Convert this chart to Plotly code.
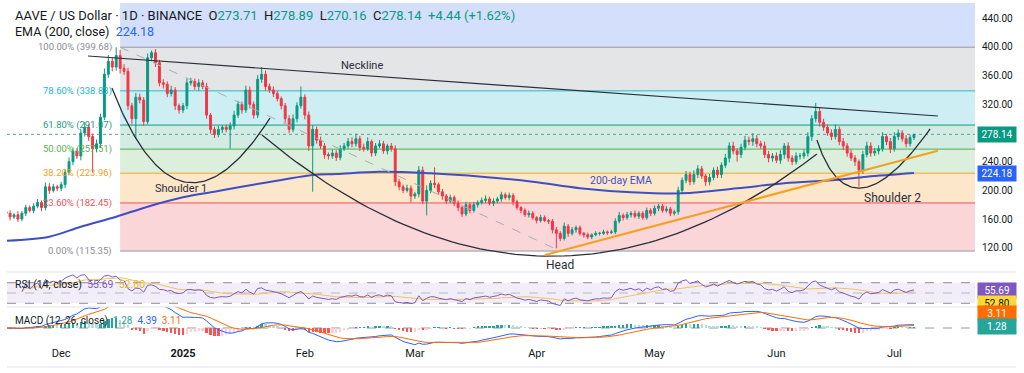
import numpy as np
import pandas as pd
import plotly.graph_objects as go

# ---------------- data ----------------
start_date = "2024-11-17"
first_open = 170.0
closes = [
    168, 163, 166, 160, 168, 176, 172, 178, 183, 176,
    205, 200, 205, 203, 208, 225, 240, 255, 248, 280,
    288, 275, 258, 265, 302, 362, 380, 372, 388, 370,
    366, 318, 300, 330, 326, 296, 385, 392, 378, 350,
    348, 335, 340, 318, 312, 318, 350, 352, 345, 350,
    345, 305, 285, 278, 285, 288, 285, 290, 305, 320,
    312, 340, 320, 305, 355, 362, 345, 340, 335, 328,
    318, 300, 285, 300, 318, 330, 305, 262, 285, 270,
    262, 250, 248, 252, 246, 258, 262, 268, 265, 272,
    260, 258, 268, 252, 262, 265, 255, 262, 258, 212,
    205, 200, 203, 192, 195, 228, 185, 200, 210, 208,
    198, 192, 185, 190, 182, 176, 167, 180, 172, 180,
    183, 186, 188, 182, 185, 188, 194, 190, 193, 184,
    176, 172, 166, 168, 162, 158, 162, 158, 157, 145,
    140, 133, 150, 140, 145, 148, 140, 138, 135, 138,
    140, 140, 142, 141, 142, 157, 165, 162, 166, 168,
    164, 168, 162, 172, 168, 175, 178, 172, 174, 168,
    170, 200, 214, 222, 212, 222, 230, 220, 212, 218,
    228, 222, 235, 245, 262, 255, 250, 260, 270, 268,
    272, 265, 262, 250, 245, 248, 242, 250, 262, 245,
    240, 248, 248, 252, 275, 300, 310, 295, 288, 280,
    275, 285, 268, 262, 252, 245, 240, 228, 250, 262,
    252, 255, 258, 275, 268, 258, 275, 280, 272, 265,
    273.71, 278.14,
]
up_wick = [
    3, 4, 2, 5, 3, 4, 3, 4, 5, 3,
    6, 5, 4, 3, 4, 5, 6, 5, 4, 6,
    7, 5, 4, 6, 5, 8, 9, 6, 11.68, 8,
    6, 5, 4, 6, 5, 4, 6, 3, 5, 4,
    5, 4, 6, 4, 3, 4, 6, 5, 4, 5,
    4, 5, 3, 4, 5, 3, 4, 5, 6, 5,
    4, 6, 5, 4, 6, 10, 5, 4, 5, 4,
    3, 4, 5, 6, 5, 15, 4, 5, 6, 4,
    5, 4, 3, 5, 4, 5, 4, 5, 6, 7,
    4, 5, 6, 3, 4, 5, 4, 3, 4, 5,
    4, 3, 5, 4, 3, 6, 5, 7, 4, 22,
    3, 4, 3, 4, 3, 4, 3, 4, 3, 4,
    3, 4, 5, 3, 4, 3, 4, 3, 4, 3,
    3, 2, 3, 4, 3, 2, 4, 3, 2, 3,
    4, 3, 5, 3, 4, 3, 3, 2, 3, 2,
    3, 2, 3, 2, 3, 4, 5, 3, 4, 3,
    4, 3, 3, 4, 3, 4, 3, 3, 4, 3,
    3, 5, 4, 5, 4, 6, 5, 4, 3, 5,
    4, 5, 4, 6, 5, 6, 4, 5, 6, 5,
    8, 5, 4, 6, 5, 4, 5, 6, 4, 5,
    4, 5, 4, 5, 6, 5, 12, 6, 5, 4,
    5, 7, 4, 5, 4, 5, 4, 3, 5, 6,
    5, 4, 5, 6, 4, 5, 6, 5, 4, 5,
    4, 0.75,
]
dn_wick = [
    3, 5, 3, 4, 3, 4, 3, 4, 3, 5,
    4, 5, 3, 4, 4, 5, 4, 5, 4, 6,
    5, 6, 33, 5, 6, 4, 5, 6, 5, 7,
    5, 6, 8, 28, 5, 6, 4, 5, 6, 5,
    6, 5, 4, 6, 5, 4, 5, 4, 5, 6,
    4, 5, 6, 5, 4, 5, 4, 27, 5, 4,
    5, 4, 6, 5, 4, 5, 6, 4, 5, 4,
    5, 6, 5, 4, 5, 4, 6, 7, 64, 5,
    4, 6, 5, 4, 5, 4, 3, 4, 5, 4,
    5, 4, 3, 5, 4, 3, 4, 5, 4, 6,
    5, 4, 3, 9, 4, 5, 4, 20, 4, 5,
    4, 5, 4, 3, 4, 5, 4, 3, 4, 3,
    4, 3, 4, 3, 4, 3, 4, 3, 4, 5,
    3, 4, 3, 4, 3, 4, 3, 2, 4, 5,
    21, 4, 3, 5, 3, 4, 3, 4, 3, 3,
    2, 3, 2, 3, 2, 3, 3, 4, 3, 4,
    3, 4, 3, 3, 4, 3, 4, 3, 3, 4,
    3, 4, 5, 4, 5, 4, 5, 4, 6, 5,
    4, 5, 5, 4, 6, 5, 10, 5, 4, 5,
    6, 5, 4, 5, 6, 5, 4, 5, 6, 5,
    5, 4, 5, 4, 5, 6, 5, 6, 5, 4,
    5, 4, 5, 6, 5, 4, 6, 23, 5, 4,
    5, 4, 5, 4, 5, 6, 4, 5, 4, 5,
    4, 3.55,
]

ema_dates = ["2024-11-17", "2024-11-28", "2024-12-06", "2024-12-15", "2024-12-23",
             "2025-01-01", "2025-01-09", "2025-01-17", "2025-01-26", "2025-02-03",
             "2025-02-09", "2025-02-20", "2025-03-05", "2025-03-18", "2025-03-31",
             "2025-04-12", "2025-04-25", "2025-05-08", "2025-05-22", "2025-06-03",
             "2025-06-16", "2025-06-24", "2025-07-06"]
ema_vals = [129.8, 135.4, 149.3, 163.3, 177.2, 190.3, 198.1, 206.1, 214.4, 221.4,
            222.8, 226.0, 223.8, 219.0, 212.0, 202.9, 197.3, 195.8, 202.9, 209.8,
            214.4, 219.0, 224.18]

fib_pcts = [0.0, 23.6, 38.2, 50.0, 61.8, 78.6, 100.0]
fib_vals = [115.35, 182.45, 223.96, 257.51, 291.07, 338.83, 399.68]
fib_line_colors = ["#9598a1", "#f0505c", "#f5a524", "#4caf50", "#14997f", "#25b9c9", "#9598a1"]
fib_text_colors = ["#8a8d96", "#ef4f5b", "#f2a02a", "#5aaf50", "#1f9a7e", "#27b3c6", "#8a8d96"]
fib_zone_colors = ["#fad6d9", "#fde7cb", "#dcefdc", "#d2ece3", "#cdeff4", "#e4e5e7", "#d4dffb"]
fib_start = "2024-12-16"

price_ticks = [120, 160, 200, 240, 320, 360, 400, 440]
date_ticks = ["2024-12-01", "2025-01-01", "2025-02-01", "2025-03-01", "2025-04-01",
              "2025-05-01", "2025-06-01", "2025-07-01"]
date_labels = ["Dec", "<b>2025</b>", "Feb", "Mar", "Apr", "May", "Jun", "Jul"]

last_ohlc = {"O": 273.71, "H": 278.89, "L": 270.16, "C": 278.14}
chg, chg_pct = 4.44, 1.62
ema_last = 224.18
rsi_last, rsi_ma_last = 55.69, 52.80
macd_hist_last, macd_last, signal_last = 1.28, 4.39, 3.11

# drawings: (date, price) anchors
neckline = [("2024-12-07 20:00", 387.4), ("2025-07-12 02:00", 303.7)]
support_line = [("2025-04-03 02:00", 109.8), ("2025-07-12 02:00", 255.3)]
fib_diag = [("2024-12-16", 399.68), ("2025-04-07", 115.35)]
arc_shoulder1 = [("2024-12-13 22:00", 342.8), ("2024-12-31 00:00", 101.5), ("2025-01-23 03:00", 300.9)]
arc_head = [("2025-01-21 02:00", 277.2), ("2025-04-01 23:00", -47.1), ("2025-06-11 07:00", 250.7)]
arc_shoulder2 = [("2025-06-11 07:00", 270.2), ("2025-06-19 20:00", 128.7), ("2025-07-10 02:00", 285.6)]

# ---------------- layout calibration (pixels) ----------------
W, H = 1024, 373
PL, PR, PT, PB = 7, 975, 3, 345
PX_PER_DAY, JAN1_PX = 3.93, 183
JAN1 = pd.Timestamp("2025-01-01")
x_range = [JAN1 + pd.Timedelta(days=(PL - JAN1_PX) / PX_PER_DAY),
           JAN1 + pd.Timedelta(days=(PR - JAN1_PX) / PX_PER_DAY)]
PPD = 0.7169  # px per dollar
P440 = 18.3
main_range = [440 - (272 - P440) / PPD, 440 + (P440 - PT) / PPD]
rsi_range = [22.8, 90.8]
macd_range = [-23.0, 28.4]


def py(pix):
    return (PB - pix) / (PB - PT)


def pxp(pix):
    return (pix - PL) / (PR - PL)


# ---------------- derived series ----------------
dates = pd.date_range(start_date, periods=len(closes), freq="D")
opens = [first_open] + closes[:-1]
highs = [max(o, c) + u for o, c, u in zip(opens, closes, up_wick)]
lows = [min(o, c) - d for o, c, d in zip(opens, closes, dn_wick)]

s = pd.Series(closes, dtype=float)
delta = s.diff()
gain = delta.clip(lower=0)
loss = -delta.clip(upper=0)
ag = gain.ewm(alpha=1 / 14, adjust=True, min_periods=4).mean()
al = loss.ewm(alpha=1 / 14, adjust=True, min_periods=4).mean()
rsi = 100 - 100 / (1 + ag / al)
rsi_ma = rsi.rolling(14, min_periods=1).mean()
ema12 = s.ewm(span=12, adjust=False).mean()
ema26 = s.ewm(span=26, adjust=False).mean()
macd = ema12 - ema26
signal = macd.ewm(span=9, adjust=False).mean()
hist = macd - signal
hist_colors = []
for i, h in enumerate(hist):
    prev = hist.iloc[i - 1] if i > 0 else 0
    if h >= 0:
        hist_colors.append("#26a69a" if h >= prev else "#b2dfdb")
    else:
        hist_colors.append("#ff5252" if h < prev else "#ffcdd2")


def bezier(pts, n=80):
    t = np.linspace(0, 1, n)
    xs = [pd.Timestamp(p[0]).value for p in pts]
    ys = [p[1] for p in pts]
    bx = (1 - t) ** 2 * xs[0] + 2 * t * (1 - t) * xs[1] + t ** 2 * xs[2]
    by = (1 - t) ** 2 * ys[0] + 2 * t * (1 - t) * ys[1] + t ** 2 * ys[2]
    return pd.to_datetime(bx.astype("int64")), by


# ---------------- figure ----------------
fig = go.Figure()

fig.add_trace(go.Candlestick(
    x=dates, open=opens, high=highs, low=lows, close=closes,
    increasing=dict(line=dict(color="#089981", width=1), fillcolor="#089981"),
    decreasing=dict(line=dict(color="#f23645", width=1), fillcolor="#f23645"),
    whiskerwidth=0, xaxis="x", yaxis="y", showlegend=False, hoverinfo="skip"))

fig.add_trace(go.Scatter(x=pd.to_datetime(ema_dates), y=ema_vals, mode="lines",
                         line=dict(color="#3d4fc4", width=2, shape="spline", smoothing=1.0),
                         xaxis="x", yaxis="y", showlegend=False, hoverinfo="skip"))

for arc in (arc_shoulder1, arc_head, arc_shoulder2):
    bx, by = bezier(arc)
    fig.add_trace(go.Scatter(x=bx, y=by, mode="lines", line=dict(color="#2a2e39", width=1.3),
                             xaxis="x", yaxis="y", showlegend=False, hoverinfo="skip"))

# RSI
fig.add_trace(go.Scatter(x=dates, y=rsi_ma, mode="lines", line=dict(color="#f3c25a", width=1),
                         xaxis="x", yaxis="y2", showlegend=False, hoverinfo="skip"))
fig.add_trace(go.Scatter(x=dates, y=rsi, mode="lines", line=dict(color="#7e57c2", width=1),
                         xaxis="x", yaxis="y2", showlegend=False, hoverinfo="skip"))

# MACD
fig.add_trace(go.Bar(x=dates, y=hist, marker=dict(color=hist_colors, line=dict(width=0)),
                     width=86400000 * 0.6, xaxis="x", yaxis="y3", showlegend=False, hoverinfo="skip"))
fig.add_trace(go.Scatter(x=dates, y=macd, mode="lines", line=dict(color="#2962ff", width=1),
                         xaxis="x", yaxis="y3", showlegend=False, hoverinfo="skip"))
fig.add_trace(go.Scatter(x=dates, y=signal, mode="lines", line=dict(color="#ff6d00", width=1),
                         xaxis="x", yaxis="y3", showlegend=False, hoverinfo="skip"))

shapes = []
# fib zones
zone_bounds = fib_vals + [main_range[1] + 5]
for i in range(len(fib_vals)):
    shapes.append(dict(type="rect", xref="x", yref="y", x0=fib_start, x1=x_range[1],
                       y0=zone_bounds[i], y1=zone_bounds[i + 1], fillcolor=fib_zone_colors[i],
                       line=dict(width=0), layer="below"))
for v, c in zip(fib_vals, fib_line_colors):
    shapes.append(dict(type="line", xref="x", yref="y", x0=fib_start, x1=x_range[1], y0=v, y1=v,
                       line=dict(color=c, width=1), layer="below"))
# last price dotted
shapes.append(dict(type="line", xref="x", yref="y", x0=x_range[0], x1=x_range[1],
                   y0=last_ohlc["C"], y1=last_ohlc["C"], line=dict(color="#5f9e91", width=1, dash="dot"),
                   layer="below"))
# drawings
shapes.append(dict(type="line", xref="x", yref="y", x0=fib_diag[0][0], y0=fib_diag[0][1],
                   x1=fib_diag[1][0], y1=fib_diag[1][1], line=dict(color="#a9acb3", width=1, dash="dash")))
shapes.append(dict(type="line", xref="x", yref="y", x0=neckline[0][0], y0=neckline[0][1],
                   x1=neckline[1][0], y1=neckline[1][1], line=dict(color="#2a2e39", width=1.2)))
shapes.append(dict(type="line", xref="x", yref="y", x0=support_line[0][0], y0=support_line[0][1],
                   x1=support_line[1][0], y1=support_line[1][1], line=dict(color="#f5a020", width=2)))
# RSI band
shapes.append(dict(type="rect", xref="x", yref="y2", x0=x_range[0], x1=x_range[1], y0=30, y1=70,
                   fillcolor="rgba(126,87,194,0.10)", line=dict(width=0), layer="below"))
for lvl, col in ((70, "#8a8d96"), (50, "rgba(138,141,150,0.55)"), (30, "#8a8d96")):
    shapes.append(dict(type="line", xref="x", yref="y2", x0=x_range[0], x1=x_range[1], y0=lvl, y1=lvl,
                       line=dict(color=col, width=1, dash="dash"), layer="below"))
# MACD zero
shapes.append(dict(type="line", xref="x", yref="y3", x0=x_range[0], x1=x_range[1], y0=0, y1=0,
                   line=dict(color="#9598a1", width=1, dash="dash"), layer="below"))
# pane separators and bottom border
for ypix in (272, 307, 367):
    shapes.append(dict(type="line", xref="paper", yref="paper", x0=pxp(PL), x1=pxp(1016),
                       y0=py(ypix), y1=py(ypix), line=dict(color="#e0e3eb", width=1)))

annotations = []
GAP = "&nbsp;&nbsp;"
GAP1 = "&nbsp; "
hdr = ("AAVE / US Dollar · 1D · BINANCE" + GAP
       + GAP.join(f"{k}<span style='color:#089981'>{v:.2f}</span>" for k, v in last_ohlc.items())
       + GAP + f"<span style='color:#089981'>+{chg:.2f} (+{chg_pct:.2f}%)</span>")
annotations.append(dict(xref="paper", yref="paper", x=pxp(13), y=py(15), xanchor="left", yanchor="middle",
                        text=hdr, showarrow=False, font=dict(size=13, color="#131722")))
annotations.append(dict(xref="paper", yref="paper", x=pxp(13), y=py(31), xanchor="left", yanchor="middle",
                        text=f"EMA (200, close){GAP}<span style='color:#2962ff'>{ema_last:.2f}</span>",
                        showarrow=False, font=dict(size=12.5, color="#131722")))
for p, v, c in zip(fib_pcts, fib_vals, fib_text_colors):
    annotations.append(dict(xref="x", yref="y", x=fib_start, y=v, xanchor="right", yanchor="middle",
                            xshift=-6, text=f"{p:.2f}% ({v:.2f})", showarrow=False,
                            font=dict(size=9.5, color=c)))
labels = [("Neckline", "2025-02-15 12:00", 373.5, "#2a2e39", 11),
          ("Shoulder 1", "2024-12-31 12:00", 202.9, "#2a2e39", 11),
          ("Head", "2025-04-07 00:00", 95.9, "#2a2e39", 12),
          ("Shoulder 2", "2025-06-30 12:00", 188.9, "#2a2e39", 12),
          ("200-day EMA", "2025-04-22 12:00", 214.4, "#3d4fc4", 10.5)]
for t, xd, yv, c, fs in labels:
    annotations.append(dict(xref="x", yref="y", x=xd, y=yv, text=t, showarrow=False,
                            xanchor="center", yanchor="middle", font=dict(size=fs, color=c)))
annotations.append(dict(xref="paper", yref="paper", x=pxp(13), y=py(284.5), xanchor="left", yanchor="middle",
                        text=(f"RSI (14, close){GAP1}<span style='color:#7e57c2'>{rsi_last:.2f}</span>{GAP1}"
                              f"<span style='color:#e8b730'>{rsi_ma_last:.2f}</span>"),
                        showarrow=False, font=dict(size=10.5, color="#131722")))
annotations.append(dict(xref="paper", yref="paper", x=pxp(13), y=py(321), xanchor="left", yanchor="middle",
                        text=(f"MACD (12, 26, close){GAP1}<span style='color:#26a69a'>{macd_hist_last:.2f}</span>{GAP}"
                              f"<span style='color:#2962ff'>{macd_last:.2f}</span>{GAP}"
                              f"<span style='color:#ff6d00'>{signal_last:.2f}</span>"),
                        showarrow=False, font=dict(size=10, color="#131722")))
boxes = [(f"{last_ohlc['C']:.2f}", "y", last_ohlc["C"], "#089981", "white"),
         (f"{ema_last:.2f}", "y", ema_last, "#2962ff", "white"),
         (f"{rsi_last:.2f}", "y2", rsi_last, "#7e57c2", "white"),
         (f"{rsi_ma_last:.2f}", "paper", py(303.3), "#fdd835", "#131722"),
         (f"{signal_last:.2f}", "paper", py(313.3), "#ff6d00", "white"),
         (f"{macd_hist_last:.2f}", "paper", py(326.7), "#26a69a", "white")]
for t, yr, yv, bg, fc in boxes:
    annotations.append(dict(xref="paper", yref=yr, x=pxp(977), y=yv, xanchor="left", yanchor="middle",
                            text=t, showarrow=False, bgcolor=bg, borderpad=2, width=34,
                            font=dict(size=10, color=fc)))

fig.update_layout(
    width=W, height=H, margin=dict(l=PL, r=W - PR, t=PT, b=H - PB),
    paper_bgcolor="white", plot_bgcolor="white",
    font=dict(family="Roboto, Arial, sans-serif", size=10, color="#131722"),
    shapes=shapes, annotations=annotations, showlegend=False, bargap=0,
    xaxis=dict(type="date", range=x_range, anchor="y3", showgrid=False, zeroline=False, showline=False,
               ticks="", tickvals=pd.to_datetime(date_ticks), ticktext=date_labels,
               tickfont=dict(size=11, color="#131722"), rangeslider=dict(visible=False)),
    yaxis=dict(domain=[py(272), 1], range=main_range, side="right", anchor="x", showgrid=False,
               zeroline=False, showline=False, ticks="", tickvals=price_ticks,
               ticktext=[f"{v:.2f}" for v in price_ticks], tickfont=dict(size=10, color="#131722"),
               ticklabelstandoff=6),
    yaxis2=dict(domain=[py(307), py(272)], range=rsi_range, anchor="x", showgrid=False, zeroline=False,
                showticklabels=False, ticks=""),
    yaxis3=dict(domain=[0, py(307)], range=macd_range, anchor="x", showgrid=False, zeroline=False,
                showticklabels=False, ticks=""),
)

fig.write_html("out.html", config={"displayModeBar": False},
               post_script="document.body.style.margin='0';document.body.style.overflow='hidden';")
